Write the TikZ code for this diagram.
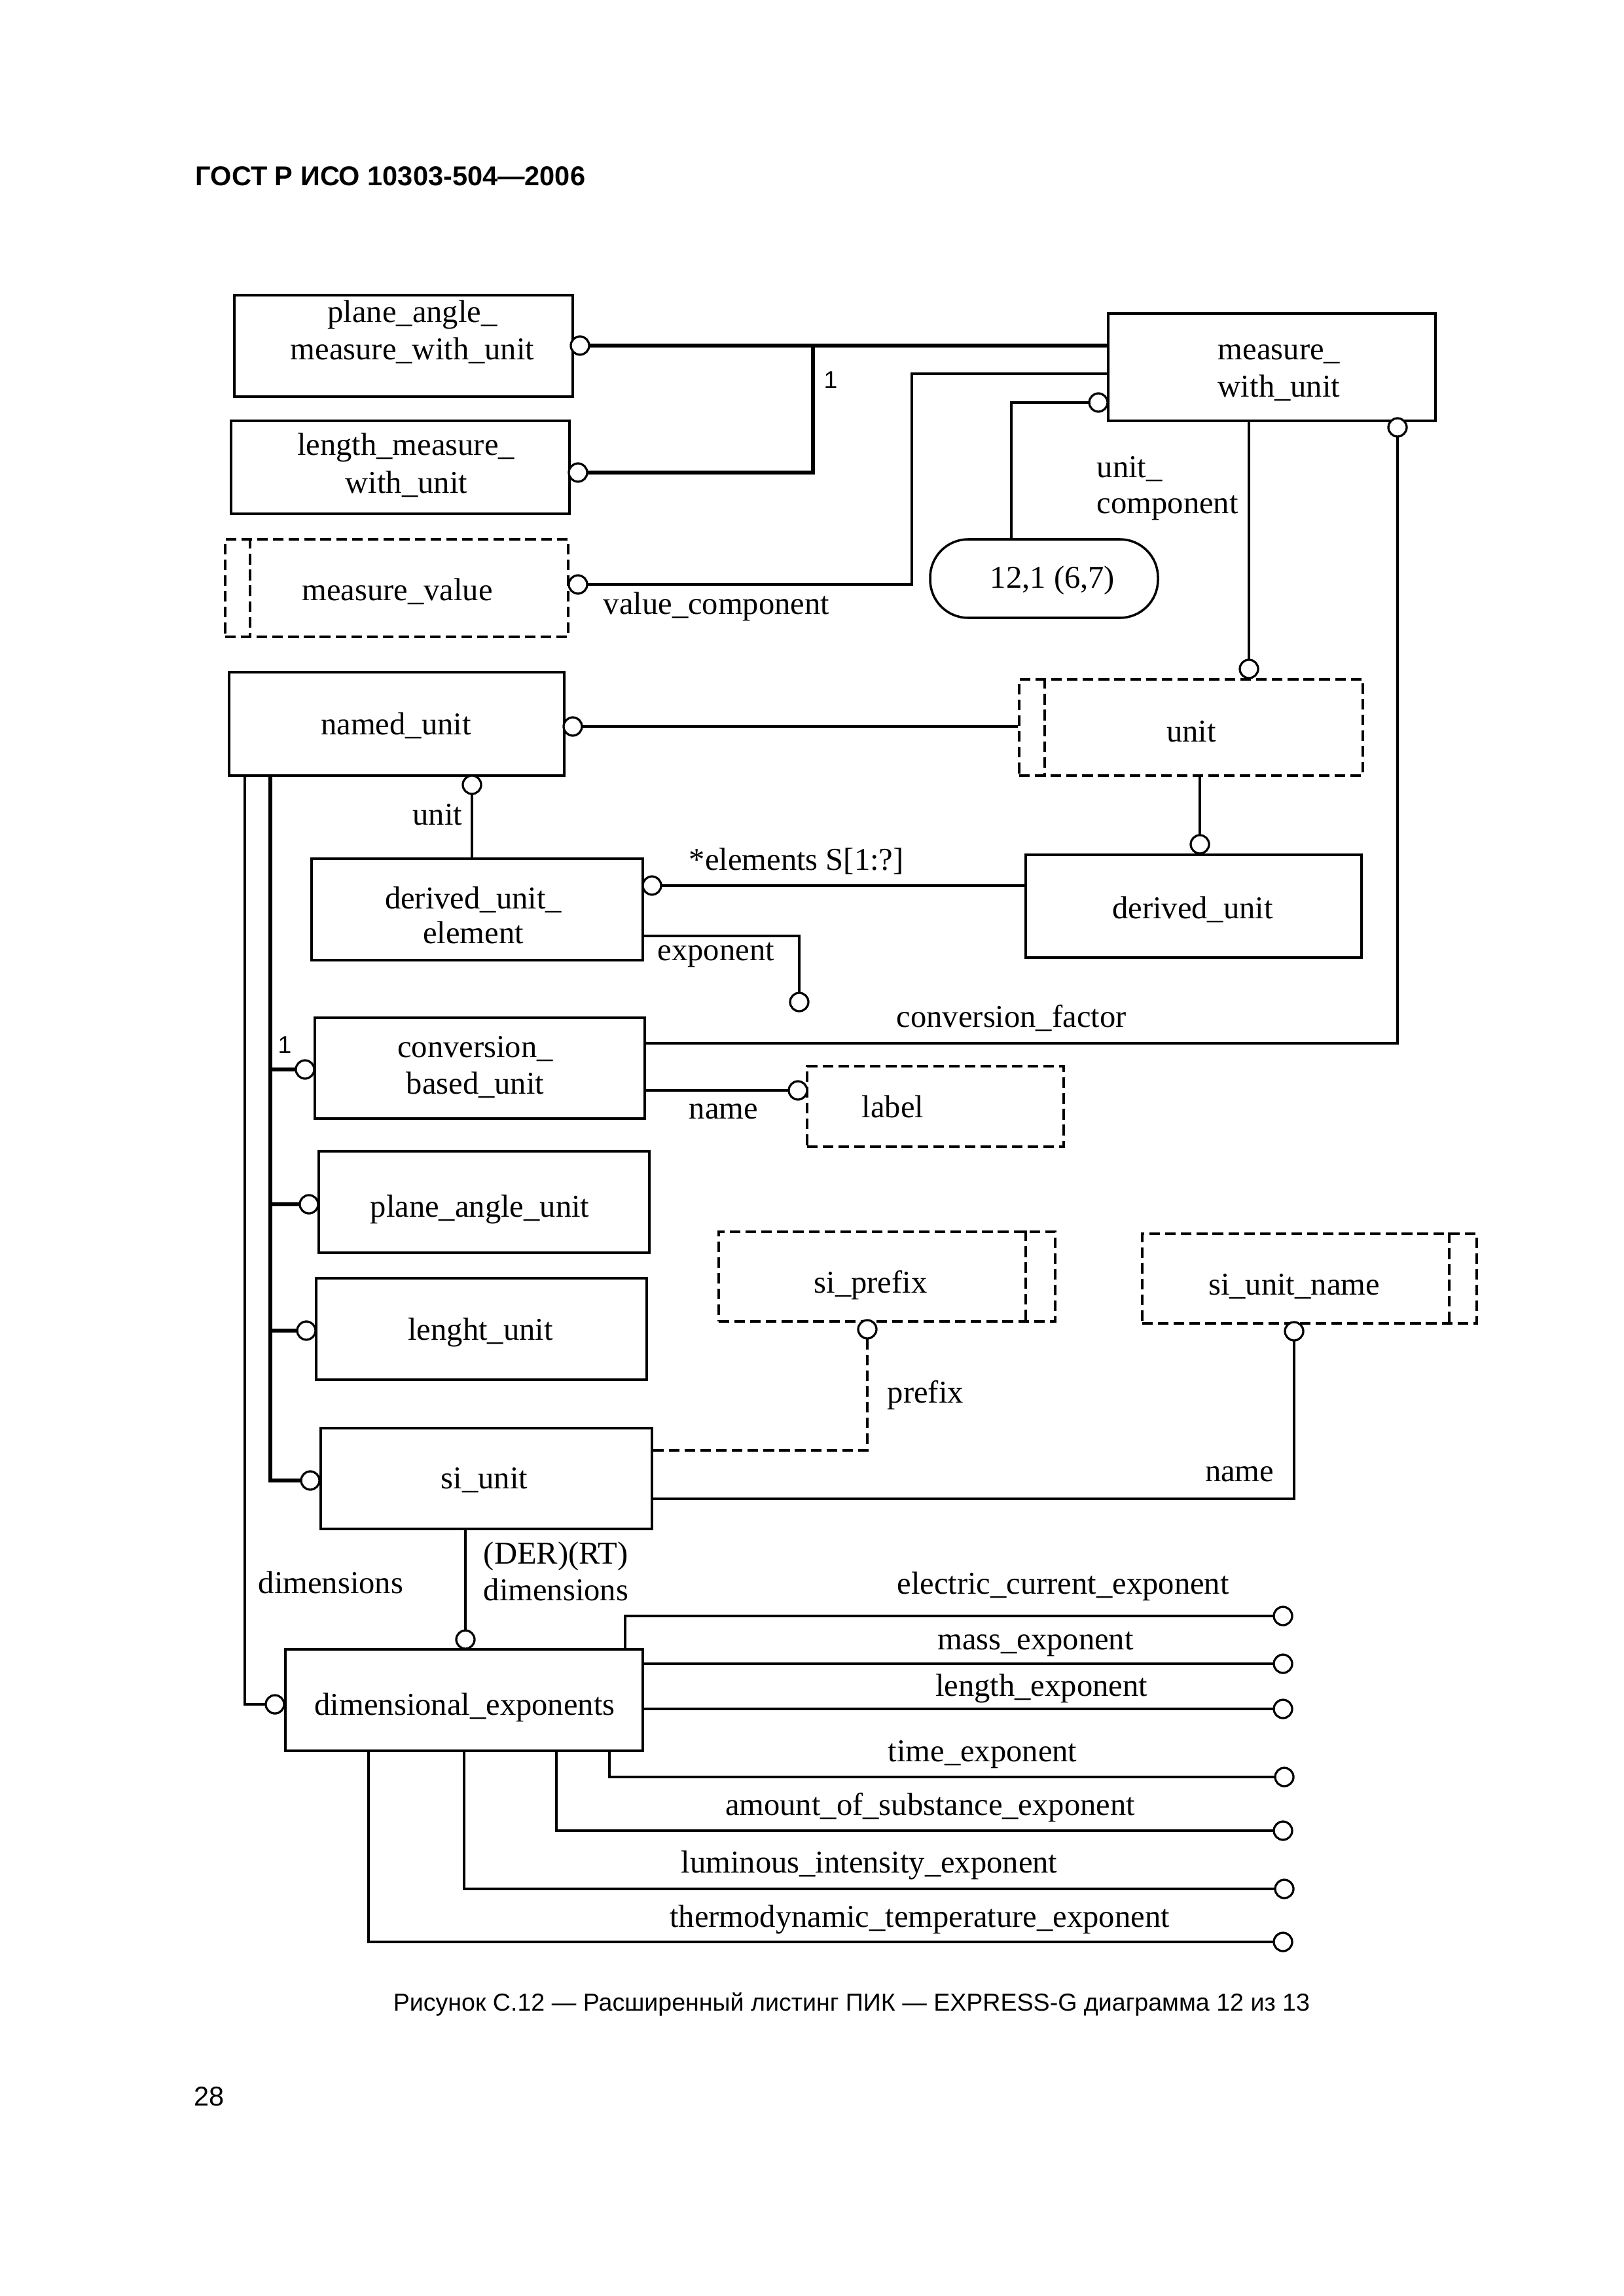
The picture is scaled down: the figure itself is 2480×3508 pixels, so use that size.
\documentclass[tikz,border=0pt]{standalone}
\usepackage{fontspec}
\setmainfont{Liberation Serif}
\newfontfamily\arialf{Liberation Sans}
\usetikzlibrary{fit,calc}
\begin{document}
\begin{tikzpicture}[x=0.24088pt,y=-0.24088pt,
  font=\fontsize{11.7}{13.5}\selectfont,
  ent/.style={draw, line width=0.85pt, inner sep=0pt, fit={#1}},
  typ/.style={draw, line width=0.85pt, dash pattern=on 3.9pt off 1.9pt, inner sep=0pt, fit={#1}},
  typdash/.style={line width=0.85pt, dash pattern=on 3.9pt off 1.9pt},
  circ/.style={circle, draw, line width=0.75pt, fill=white, minimum size=6.7pt, inner sep=0pt},
  rel/.style={line width=0.75pt},
  supline/.style={line width=1.5pt},
  txt/.style={anchor=base, inner sep=0pt},
  txtl/.style={anchor=base west, inner sep=0pt},
  txtr/.style={anchor=base east, inner sep=0pt},
  one/.style={font=\arialf\fontsize{9}{10}\selectfont, inner sep=0pt},
  line join=miter]
\useasboundingbox (0,0) rectangle (2480,3508);

% header / footer
\node[txtl, font=\arialf\bfseries\fontsize{10}{12}\selectfont] (hdr) at (298,284) {ГОСТ Р ИСО 10303-504—2006};
\node[txtl, font=\arialf\fontsize{9.05}{11}\selectfont] (cap) at (600,3072) {Рисунок С.12 — Расширенный листинг ПИК — EXPRESS-G диаграмма 12 из 13};
\node[txtl, font=\arialf\fontsize{10}{12}\selectfont] (pg) at (296,3217) {28};

% boxes
\node[ent={(358,451) (875,606)}] (pam) {};
\node[ent={(353,643) (870,785)}] (lmwu) {};
\node[typ={(344,824) (868,973)}] (mv) {};
\node[ent={(1693,479) (2193,643)}] (mwu) {};
\node[draw, line width=0.85pt, rounded corners=14pt, inner sep=0pt, fit={(1421,824) (1769,944)}] (ov) {};
\node[ent={(350,1027) (862,1185)}] (nu) {};
\node[typ={(1557,1038) (2082,1185)}] (unit) {};
\node[ent={(476,1312) (982,1467)}] (due) {};
\node[ent={(1567,1306) (2080,1463)}] (du) {};
\node[ent={(481,1555) (985,1709)}] (cbu) {};
\node[typ={(1233,1629) (1625,1752)}] (lab) {};
\node[ent={(487,1759) (992,1914)}] (pau) {};
\node[ent={(483,1953) (988,2108)}] (lu) {};
\node[ent={(490,2182) (996,2336)}] (siu) {};
\node[typ={(1098,1882) (1612,2019)}] (sip) {};
\node[typ={(1745,1885) (2256,2022)}] (sun) {};
\node[ent={(436,2520) (982,2675)}] (de) {};

% select / enumeration bars
\draw[typdash] ($(mv.north west)+(40,0)$) -- ($(mv.south west)+(40,0)$);
\draw[typdash] ($(unit.north west)+(41,0)$) -- ($(unit.south west)+(41,0)$);
\draw[typdash] ($(sip.north east)+(-47,0)$) -- ($(sip.south east)+(-47,0)$);
\draw[typdash] ($(sun.north east)+(-44,0)$) -- ($(sun.south east)+(-44,0)$);

% box texts
\node[txt] (t-pam1) at (630,493) {plane\_angle\_};
\node[txt] (t-pam2) at (630,550) {measure\_with\_unit};
\node[txt] (t-lm1) at (620,696) {length\_measure\_};
\node[txt] (t-lm2) at (621,753) {with\_unit};
\node[txt] (t-mv) at (607,917) {measure\_value};
\node[txt] (t-mwu1) at (1954,550) {measure\_};
\node[txt] (t-mwu2) at (1954,607) {with\_unit};
\node[txt] (t-ov) at (1608,898) {12,1 (6,7)};
\node[txt] (t-nu) at (605,1122) {named\_unit};
\node[txt] (t-unit) at (1820,1133) {unit};
\node[txt] (t-due1) at (723,1388) {derived\_unit\_};
\node[txt] (t-due2) at (723,1441) {element};
\node[txt] (t-du) at (1822,1403) {derived\_unit};
\node[txt] (t-cbu1) at (726,1615) {conversion\_};
\node[txt] (t-cbu2) at (726,1671) {based\_unit};
\node[txt] (t-lab) at (1364,1707) {label};
\node[txt] (t-pau) at (733,1859) {plane\_angle\_unit};
\node[txt] (t-lu) at (734,2047) {lenght\_unit};
\node[txt] (t-siu) at (740,2274) {si\_unit};
\node[txt] (t-sip) at (1330,1975) {si\_prefix};
\node[txt] (t-sun) at (1977,1978) {si\_unit\_name};
\node[txt] (t-de) at (710,2620) {dimensional\_exponents};

% junction coordinates
\coordinate (j1) at (1242,528);
\coordinate (k2) at (1393,571);
\coordinate (k3) at (1545,615);
\coordinate (k4) at (2135,1594);
\coordinate (k5) at (1221,1430);
\coordinate (k6) at (1325,2216);
\coordinate (k7) at (1977,2290);
\coordinate (k8) at (374,1185);
\coordinate (t0) at (413,1187);
\coordinate (k9) at (955,2469);
\coordinate (k10) at (931,2715);
\coordinate (k11) at (850,2797);
\coordinate (k12) at (709,2886);
\coordinate (k13) at (563,2967);

% circles
\node[circ] (c-pam) at (886,528) {};
\node[circ] (c-lm) at (883,722) {};
\node[circ] (c-mv) at (883,893) {};
\node[circ] (c-mwul) at (1678,615) {};
\node[circ] (c-mwub) at (2135,653) {};
\node[circ] (c-unitt) at (1908,1022) {};
\node[circ] (c-nur) at (875,1110) {};
\node[circ] (c-nub) at (721,1199) {};
\node[circ] (c-duer) at (996,1353) {};
\node[circ] (c-exp) at (1221,1531) {};
\node[circ] (c-dut) at (1833,1290) {};
\node[circ] (c-cbu) at (466,1634) {};
\node[circ] (c-name) at (1219,1666) {};
\node[circ] (c-pau) at (472,1840) {};
\node[circ] (c-lu) at (468,2033) {};
\node[circ] (c-siu) at (474,2262) {};
\node[circ] (c-sip) at (1325,2031) {};
\node[circ] (c-sun) at (1977,2034) {};
\node[circ] (c-del) at (420,2604) {};
\node[circ] (c-det) at (711,2505) {};
\node[circ] (c-ec) at (1960,2469) {};
\node[circ] (c-ma) at (1960,2542) {};
\node[circ] (c-le) at (1960,2611) {};
\node[circ] (c-ti) at (1962,2715) {};
\node[circ] (c-am) at (1960,2797) {};
\node[circ] (c-lum) at (1962,2886) {};
\node[circ] (c-th) at (1960,2967) {};

% thick supertype lines
\draw[supline] (c-pam) -- (mwu.west |- c-pam);
\draw[supline] (c-lm) -| (j1);
\draw[supline] (t0) -- (t0 |- c-siu) -- (c-siu);
\draw[supline] (t0 |- c-cbu) -- (c-cbu);
\draw[supline] (t0 |- c-pau) -- (c-pau);
\draw[supline] (t0 |- c-lu) -- (c-lu);

% relations
\draw[rel] (c-mv) -| (k2) -- (mwu.west |- k2);
\draw[rel] (c-mwul) -| (k3 |- ov.north);
\draw[rel] (c-unitt |- mwu.south) -- (c-unitt);
\draw[rel] (c-mwub) -- (k4) -- (cbu.east |- k4);
\draw[rel] (c-nur) -- (unit.west |- c-nur);
\draw[rel] (c-nub) -- (due.north -| c-nub);
\draw[rel] (c-duer) -- (du.west |- c-duer);
\draw[rel] (due.east |- k5) -- (k5) -- (c-exp);
\draw[rel] (unit.south -| c-dut) -- (c-dut);
\draw[rel] (cbu.east |- c-name) -- (c-name);
\draw[rel, dash pattern=on 3.9pt off 1.9pt] (siu.east |- k6) -- (k6) -- (c-sip);
\draw[rel] (siu.east |- k7) -- (k7) -- (c-sun);
\draw[rel] (k8) |- (c-del);
\draw[rel] (siu.south -| c-det) -- (c-det);
\draw[rel] (de.north -| k9) -- (k9) -- (c-ec);
\draw[rel] (de.east |- c-ma) -- (c-ma);
\draw[rel] (de.east |- c-le) -- (c-le);
\draw[rel] (de.south -| k10) -- (k10) -- (c-ti);
\draw[rel] (de.south -| k11) -- (k11) -- (c-am);
\draw[rel] (de.south -| k12) -- (k12) -- (c-lum);
\draw[rel] (de.south -| k13) -- (k13) -- (c-th);

% redraw circles on top
\foreach \c in {c-pam,c-lm,c-mv,c-mwul,c-mwub,c-unitt,c-nur,c-nub,c-duer,c-exp,c-dut,c-cbu,c-name,c-pau,c-lu,c-siu,c-sip,c-sun,c-del,c-det,c-ec,c-ma,c-le,c-ti,c-am,c-lum,c-th}
  \draw[line width=0.75pt, fill=white] (\c.center) circle (3.35pt);

% labels
\node[one] (one1) at (1269,581) {1};
\node[one] (one2) at (435,1597) {1};
\node[txtl] (l-vc) at (921,938) {value\_component};
\node[txtl] (l-uc1) at (1675,730) {unit\_};
\node[txtl] (l-uc2) at (1675,784) {component};
\node[txtr] (l-unit) at (707,1260) {unit};
\node[txtl] (l-el) at (1052,1329) {*elements S[1:?]};
\node[txtl] (l-exp) at (1004,1467) {exponent};
\node[txtl] (l-cf) at (1369,1569) {conversion\_factor};
\node[txtl] (l-name1) at (1052,1709) {name};
\node[txtl] (l-pre) at (1355,2143) {prefix};
\node[txtr] (l-name2) at (1947,2263) {name};
\node[txtl] (l-dim1) at (394,2434) {dimensions};
\node[txtl] (l-der) at (738,2389) {(DER)(RT)};
\node[txtl] (l-dim2) at (738,2445) {dimensions};
\node[txt] (l-ec) at (1624,2435) {electric\_current\_exponent};
\node[txt] (l-ma) at (1582,2520) {mass\_exponent};
\node[txt] (l-le) at (1591,2591) {length\_exponent};
\node[txt] (l-ti) at (1501,2691) {time\_exponent};
\node[txt] (l-am) at (1421,2773) {amount\_of\_substance\_exponent};
\node[txt] (l-lum) at (1328,2861) {luminous\_intensity\_exponent};
\node[txt] (l-th) at (1405,2944) {thermodynamic\_temperature\_exponent};
\end{tikzpicture}
\end{document}
